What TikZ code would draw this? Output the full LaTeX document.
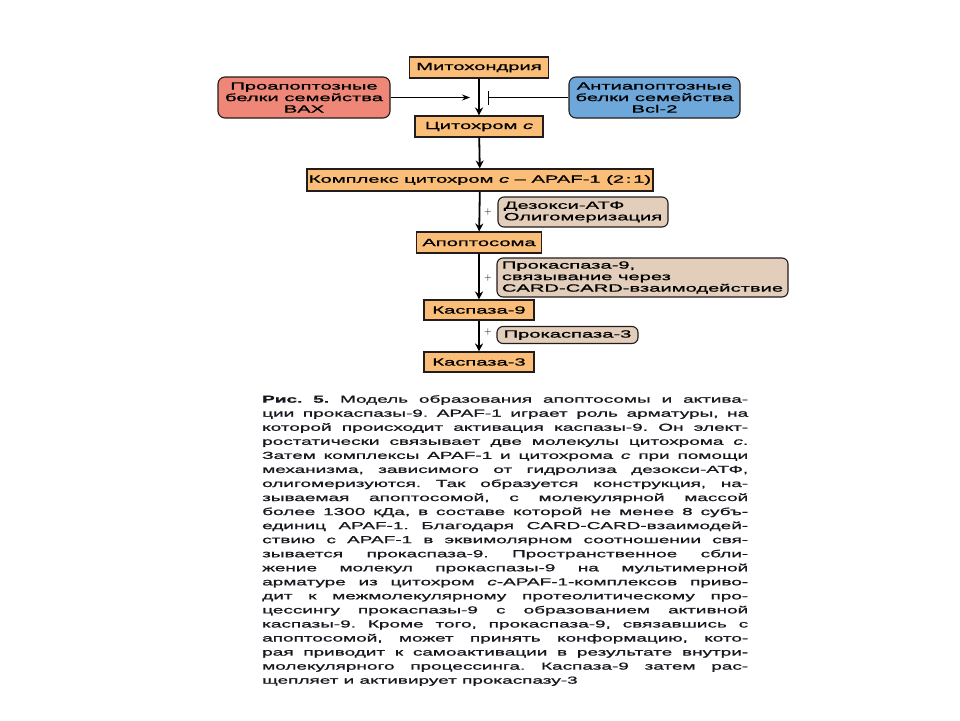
\documentclass[tikz,border=0pt]{standalone}
\usepackage{fontspec}
\usetikzlibrary{arrows.meta}
\newfontfamily\wf{Liberation Sans}[FakeStretch=1.92,FakeBold=1]
\newfontfamily\capf{Liberation Sans}[FakeStretch=1.86,FakeBold=1.1]
\definecolor{orangef}{RGB}{250,190,120}
\definecolor{salmonf}{RGB}{238,135,120}
\definecolor{bluef}{RGB}{110,168,218}
\definecolor{beigef}{RGB}{226,206,186}
\definecolor{bordc}{RGB}{35,28,28}
\definecolor{txtc}{RGB}{25,22,30}
\newcommand\capline[1]{\hbox to 486pt{#1}}
\tikzset{
  boxfont/.style={font=\wf\fontsize{10.5}{11.5}\selectfont},
  mainbox/.style={boxfont, draw=bordc, line width=1.1pt, fill=orangef, inner sep=1pt, text=black},
  sidebox/.style={boxfont, draw=bordc, line width=1.1pt, rounded corners=7pt, align=center, inner sep=1pt, text=black},
  addbox/.style={boxfont, draw=bordc, line width=1.1pt, fill=beigef, rounded corners=6pt, align=left, inner sep=1.5pt, text=black},
  flow/.style={line width=1.8pt, draw=black, -{Stealth[length=8pt,width=8pt]}},
  thinflow/.style={line width=0.8pt, draw=black, -{Stealth[length=8pt,width=6pt]}},
  inhib/.style={line width=0.8pt, draw=black, -{Bar[width=14pt,line width=1pt]}},
  plus/.style={font=\fontsize{10}{10}\selectfont, inner sep=0pt}
}
\begin{document}
\begin{tikzpicture}[x=1pt,y=-1pt]
\useasboundingbox[fill=white] (0,0) rectangle (960,720);

\node[mainbox, minimum width=139pt, minimum height=21pt] (mito) at (479,67.5) {Митохондрия};
\node[mainbox, minimum width=128pt, minimum height=21pt] (cyt) at (479,126.5) {Цитохром \textit{c}};
\node[mainbox, minimum width=346pt, minimum height=22pt] (komp) at (480,180) {Комплекс цитохром \textit{c} – APAF-1 (2\,:\,1)};
\node[mainbox, minimum width=125pt, minimum height=21pt] (apo) at (479,242.5) {Апоптосома};
\node[mainbox, minimum width=110pt, minimum height=20pt] (k9) at (479,310) {Каспаза-9};
\node[mainbox, minimum width=110pt, minimum height=20pt] (k3) at (479,362) {Каспаза-3};

\node[sidebox, fill=salmonf, minimum width=172pt, minimum height=41pt] (pro) at (304,97.5) {Проапоптозные\\белки семейства\\BAX};
\node[sidebox, fill=bluef, minimum width=171pt, minimum height=41pt] (anti) at (654.5,97.5) {Антиапоптозные\\белки семейства\\Bcl-2};

\node[addbox, minimum width=170pt, minimum height=30pt] (dez) at (583,212) {Дезокси-АТФ\\Олигомеризация};
\node[addbox, minimum width=291pt, minimum height=39pt] (p9) at (642.5,277.5) {Прокаспаза-9,\\связывание через\\CARD-CARD-взаимодействие};
\node[addbox, minimum width=141pt, minimum height=17pt, inner sep=1pt] (p3) at (567.5,335) {Прокаспаза-3};

\node[plus] (pl1) at (488,212) {+};
\node[plus] (pl2) at (488,278) {+};
\node[plus] (pl3) at (488,332) {+};

\coordinate (in1) at (470,97.5);
\coordinate (in2) at (488,97.5);

\draw[flow] (mito) -- (cyt);
\draw[flow] (cyt) -- (komp);
\draw[flow] (komp) -- (apo);
\draw[flow] (apo) -- (k9);
\draw[flow] (k9) -- (k3);
\draw[thinflow] (pro) -- (in1);
\draw[inhib] (anti) -- (in2);

\node[anchor=north west, inner sep=0pt, text=txtc] (cap) at (262,395) {\vbox{\capf\fontsize{10.2}{14.05}\selectfont\baselineskip=14.05pt\frenchspacing
\capline{\textbf{Рис. 5.} Модель образования апоптосомы и актива-}
\capline{ции прокаспазы-9. APAF-1 играет роль арматуры, на}
\capline{которой происходит активация каспазы-9. Он элект-}
\capline{ростатически связывает две молекулы цитохрома \textit{c}.}
\capline{Затем комплексы APAF-1 и цитохрома \textit{c} при помощи}
\capline{механизма, зависимого от гидролиза дезокси-АТФ,}
\capline{олигомеризуются. Так образуется конструкция, на-}
\capline{зываемая апоптосомой, с молекулярной массой}
\capline{более 1300 кДа, в составе которой не менее 8 субъ-}
\capline{единиц APAF-1. Благодаря CARD-CARD-взаимодей-}
\capline{ствию с APAF-1 в эквимолярном соотношении свя-}
\capline{зывается прокаспаза-9. Пространственное сбли-}
\capline{жение молекул прокаспазы-9 на мультимерной}
\capline{арматуре из цитохром \textit{c}-APAF-1-комплексов приво-}
\capline{дит к межмолекулярному протеолитическому про-}
\capline{цессингу прокаспазы-9 с образованием активной}
\capline{каспазы-9. Кроме того, прокаспаза-9, связавшись с}
\capline{апоптосомой, может принять конформацию, кото-}
\capline{рая приводит к самоактивации в результате внутри-}
\capline{молекулярного процессинга. Каспаза-9 затем рас-}
\hbox{щепляет и активирует прокаспазу-3}}};
\end{tikzpicture}
\end{document}
